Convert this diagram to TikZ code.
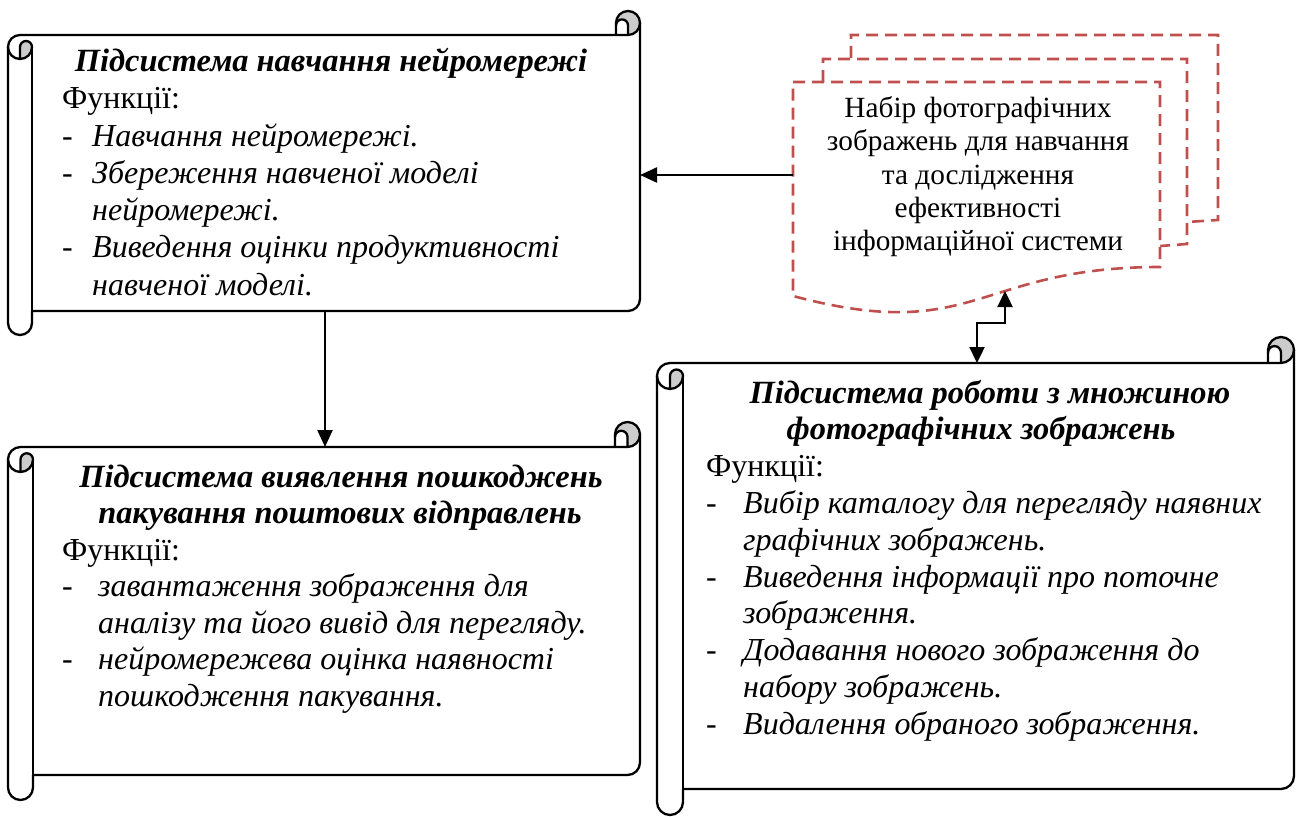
\documentclass[tikz,border=0pt]{standalone}
\usepackage{fontspec}
\setmainfont{Liberation Serif}
\usetikzlibrary{arrows.meta}
\definecolor{docred}{RGB}{192,80,77}
\newcommand{\scrollfont}{\fontsize{32}{36.5}\selectfont}
\newcommand{\titlefont}{\fontsize{32.4}{36.5}\selectfont}
\newcommand{\docfont}{\fontsize{29.3}{33}\selectfont}
\tikzset{
  scrollline/.style={line width=2.3pt, draw=black, line join=round},
  curlfill/.style={fill=black!20},
  arr/.style={line width=2.3pt, -{Triangle[length=17pt,width=15pt]}},
  darr/.style={line width=2.3pt, {Triangle[length=16pt,width=15pt]}-{Triangle[length=16pt,width=15pt]}},
  docline/.style={draw=docred, line width=2.6pt, dash pattern=on 12pt off 7pt},
  txt/.style={inner sep=0pt, anchor=base west, font=\scrollfont},
  ttl/.style={inner sep=0pt, anchor=base, font=\titlefont\bfseries\itshape},
  doctxt/.style={inner sep=0pt, anchor=base, font=\docfont},
}
\newcommand{\hscroll}[5]{%
 \pgfmathsetmacro\scL{#1}\pgfmathsetmacro\scT{#2}\pgfmathsetmacro\scR{#3}\pgfmathsetmacro\scB{#4}\pgfmathsetmacro\scC{#5}%
 \pgfmathsetmacro\scH{\scC/2}\pgfmathsetmacro\scQ{\scC/4}%
 \pgfmathsetmacro\scxA{\scL+\scH}\pgfmathsetmacro\scxB{\scL+\scC}%
 \pgfmathsetmacro\scxC{\scR-\scC}\pgfmathsetmacro\scxD{\scR-\scH}%
 \pgfmathsetmacro\scyA{\scT+\scH}\pgfmathsetmacro\scyB{\scT+\scC}%
 \pgfmathsetmacro\scyC{\scT+1.5*\scC}\pgfmathsetmacro\scyD{\scT+2*\scC}%
 \pgfmathsetmacro\scyF{\scB-\scC}\pgfmathsetmacro\scyG{\scB-\scH}\pgfmathsetmacro\scyE{\scyF-\scH}%
 \pgfmathsetmacro\scyQ{\scT+0.6*\scC}%
 \fill[white] (\scL,\scyC) arc[start angle=180,end angle=270,radius=\scH] -- (\scxC,\scyB) -- (\scxC,\scyA) arc[start angle=180,end angle=360,radius=\scH] -- (\scR,\scyE) arc[start angle=0,end angle=90,radius=\scH] -- (\scxB,\scyF) -- (\scxB,\scyG) arc[start angle=0,end angle=180,radius=\scH] -- cycle;
 \fill[curlfill] (\scxD,\scyA) circle[radius=\scH];
 \fill[white] (\scxC,\scyB) -- (\scxC,\scyQ) arc[start angle=180,end angle=360,radius=\scQ] -- (\scxD,\scyB) -- cycle;
 \fill[curlfill] (\scxA,\scyD) arc[start angle=90,end angle=0,radius=\scH] arc[start angle=0,end angle=-180,radius=\scQ] -- cycle;
 \draw[scrollline] (\scL,\scyC) arc[start angle=180,end angle=270,radius=\scH] -- (\scxC,\scyB) -- (\scxC,\scyA) arc[start angle=180,end angle=360,radius=\scH] -- (\scR,\scyE) arc[start angle=0,end angle=90,radius=\scH] -- (\scxB,\scyF) -- (\scxB,\scyG) arc[start angle=0,end angle=180,radius=\scH] -- cycle;
 \draw[scrollline] (\scxC,\scyB) -- (\scxD,\scyB) arc[start angle=90,end angle=0,radius=\scH];
 \draw[scrollline] (\scxD,\scyB) -- (\scxD,\scyQ) arc[start angle=0,end angle=-180,radius=\scQ];
 \draw[scrollline] (\scxA,\scyD) -- (\scxA,\scyC) arc[start angle=180,end angle=360,radius=\scQ] arc[start angle=0,end angle=180,radius=\scH];
 \draw[scrollline] (\scxB,\scyC) -- (\scxB,\scyF);
}
\begin{document}
\begin{tikzpicture}[x=1pt,y=-1pt]
\fill[white] (0,0) rectangle (1300,816);
\useasboundingbox (0,0) rectangle (1300,816);

% scrolls
\hscroll{8}{11}{640}{335}{24}
\hscroll{8}{422}{640}{800}{25}
\hscroll{657}{337}{1294}{815}{26}

% multi-document
\draw[docline] (851,58) -- (851,35) -- (1218,35) -- (1218,220) -- (1187,222);
\draw[docline] (823,82) -- (823,59) -- (1187,59) -- (1187,244) -- (1160,246);
\draw[docline, fill=white] (793,82) -- (1160,82) -- (1160,267) .. controls (976,267) and (976,345) .. (793,296) -- cycle;

\node[doctxt] (d1) at (978,117) {Набір фотографічних};
\node[doctxt] (d2) at (978,150) {зображень для навчання};
\node[doctxt] (d3) at (978,184) {та дослідження};
\node[doctxt] (d4) at (978,217) {ефективності};
\node[doctxt] (d5) at (978,250) {інформаційної системи};

% scroll 1 text
\node[ttl] (a0) at (331,71) {Підсистема навчання нейромережі};
\node[txt] (a1) at (62,108) {Функції:};
\node[txt] (a2d) at (62,146) {-};
\node[txt] (a2) at (92,146) {\itshape Навчання нейромережі.};
\node[txt] (a3d) at (62,183) {-};
\node[txt] (a3) at (92,183) {\itshape Збереження навченої моделі};
\node[txt] (a4) at (92,220) {\itshape нейромережі.};
\node[txt] (a5d) at (62,257) {-};
\node[txt] (a5) at (92,257) {\itshape Виведення оцінки продуктивності};
\node[txt] (a6) at (92,295) {\itshape навченої моделі.};

% scroll 2 text
\node[ttl] (b0) at (341,487) {Підсистема виявлення пошкоджень};
\node[ttl] (b1) at (340,523.5) {пакування поштових відправлень};
\node[txt] (b2) at (62,560) {Функції:};
\node[txt] (b3d) at (62,596.5) {-};
\node[txt] (b3) at (98,596.5) {\itshape завантаження зображення для};
\node[txt] (b4) at (98,633) {\itshape аналізу та його вивід для перегляду.};
\node[txt] (b5d) at (62,669.5) {-};
\node[txt] (b5) at (98,669.5) {\itshape нейромережева оцінка наявності};
\node[txt] (b6) at (98,706) {\itshape пошкодження пакування.};

% scroll 3 text
\node[ttl] (c0) at (990,403) {Підсистема роботи з множиною};
\node[ttl] (c1) at (981,439.8) {фотографічних зображень};
\node[txt] (c2) at (706,476.6) {Функції:};
\node[txt] (c3d) at (706,513.4) {-};
\node[txt] (c3) at (743,513.4) {\itshape Вибір каталогу для перегляду наявних};
\node[txt] (c4) at (743,550.2) {\itshape графічних зображень.};
\node[txt] (c5d) at (706,587) {-};
\node[txt] (c5) at (743,587) {\itshape Виведення інформації про поточне};
\node[txt] (c6) at (743,623.8) {\itshape зображення.};
\node[txt] (c7d) at (706,660.6) {-};
\node[txt] (c7) at (743,660.6) {\itshape Додавання нового зображення до};
\node[txt] (c8) at (743,697.4) {\itshape набору зображень.};
\node[txt] (c9d) at (706,734.2) {-};
\node[txt] (c9) at (743,734.2) {\itshape Видалення обраного зображення.};

% connectors
\coordinate (docL) at (793,175);
\coordinate (s1R) at (640,175);
\coordinate (s1B) at (325,311);
\coordinate (s2T) at (325,447);
\coordinate (s3T) at (977,363);
\coordinate (docB) at (1005,291);
\draw[arr] (docL) -- (s1R);
\draw[arr] (s1B) -- (s2T);
\draw[darr] (s3T) -- ++(0,-40) -| (docB);
\end{tikzpicture}
\end{document}
